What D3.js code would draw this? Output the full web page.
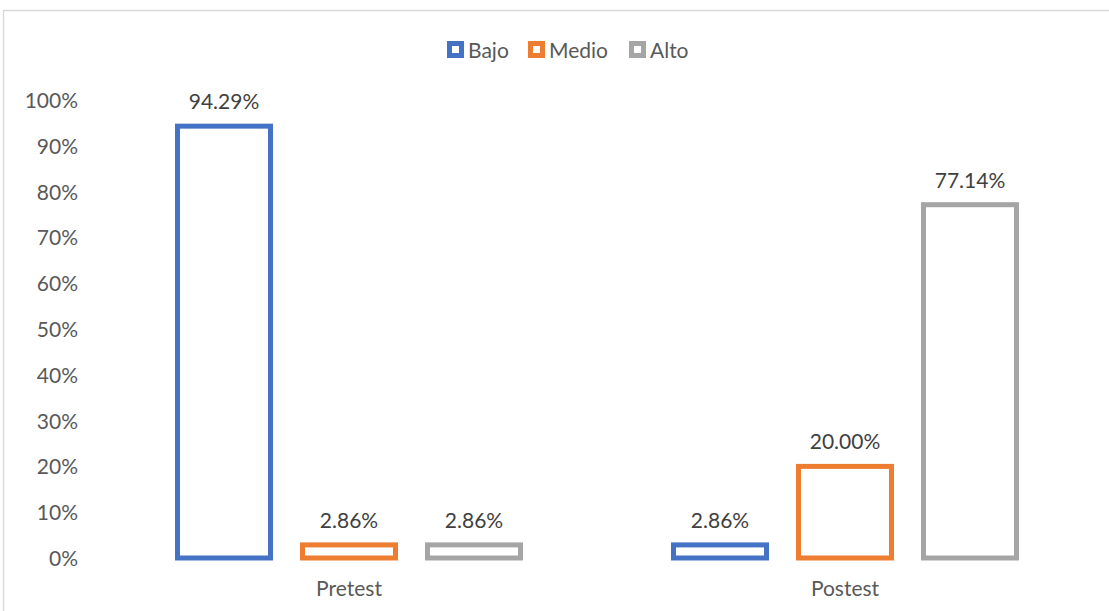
<!DOCTYPE html>
<html><head><meta charset="utf-8">
<script src="https://cdn.jsdelivr.net/npm/d3@7"></script>
<style>body{margin:0;background:#fff}svg{display:block}</style>
</head><body>
<script>
const categories = ["Pretest", "Postest"];
const series = ["Bajo", "Medio", "Alto"];
const bajo = [94.29, 2.86];
const medio = [2.86, 20.00];
const alto = [2.86, 77.14];
const yTicks = [0, 10, 20, 30, 40, 50, 60, 70, 80, 90, 100];
const colors = ["#4472C4", "#ED7D31", "#A5A5A5"];
const values = [bajo, medio, alto];

const W = 1109, H = 611;
const font = "Lato, 'Open Sans', sans-serif";
const fs = 21;
const svg = d3.select("body").append("svg").attr("width", W).attr("height", H);

// outer frame (partially visible)
svg.append("path").attr("d", "M3.5,611 V10.5 H1109").attr("fill", "none")
  .attr("stroke", "#d9d9d9").attr("stroke-width", 1.5);

const y = d3.scaleLinear().domain([0, 100]).range([558, 100]);
const x0 = d3.scaleBand().domain(categories).range([101, 1093]).padding(0);
const bw = x0.bandwidth();
const x1 = d3.scaleBand().domain(series).range([bw * 0.122, bw * 0.878])
  .paddingInner(0.256).paddingOuter(0.128);
const color = d3.scaleOrdinal().domain(series).range(colors);

// y axis labels
const yAxis = d3.axisLeft(y).tickValues(yTicks).tickFormat(d => d + "%").tickSize(0).tickPadding(0);
const ya = svg.append("g").attr("transform", "translate(78,0)").call(yAxis);
ya.select(".domain").remove();
ya.selectAll("text").attr("font-family", font).attr("font-size", fs).attr("fill", "#595959").attr("dy", "0.36em");

// x axis labels
const xAxis = d3.axisBottom(x0).tickSize(0).tickPadding(0);
const xa = svg.append("g").attr("transform", "translate(0,580)").call(xAxis);
xa.select(".domain").remove();
xa.selectAll("text").attr("font-family", font).attr("font-size", fs).attr("fill", "#595959").attr("dy", "0.76em");

// bars
const data = [];
categories.forEach((c, ci) => series.forEach((s, si) => data.push({c, s, v: values[si][ci]})));
const g = svg.append("g");
g.selectAll("rect").data(data).join("rect")
  .attr("x", d => x0(d.c) + x1(d.s))
  .attr("width", x1.bandwidth())
  .attr("y", d => y(d.v))
  .attr("height", d => y(0) - y(d.v))
  .attr("fill", "#fff")
  .attr("stroke", d => color(d.s))
  .attr("stroke-width", 5);

g.selectAll("text").data(data).join("text")
  .attr("x", d => x0(d.c) + x1(d.s) + x1.bandwidth() / 2)
  .attr("y", d => y(d.v) - 17)
  .attr("text-anchor", "middle")
  .attr("font-family", font).attr("font-size", fs).attr("fill", "#404040")
  .text(d => d.v.toFixed(2) + "%");

// legend
const legendX = [447, 528, 629];
const lg = svg.append("g");
series.forEach((s, i) => {
  const gi = lg.append("g").attr("transform", `translate(${legendX[i]},41)`);
  gi.append("rect").attr("x", 2.5).attr("y", 2.5).attr("width", 12).attr("height", 12)
    .attr("fill", "#fff").attr("stroke", color(s)).attr("stroke-width", 5);
  gi.append("text").attr("x", 21).attr("y", 16.5)
    .attr("font-family", font).attr("font-size", fs).attr("fill", "#595959").text(s);
});
</script>
</body></html>
